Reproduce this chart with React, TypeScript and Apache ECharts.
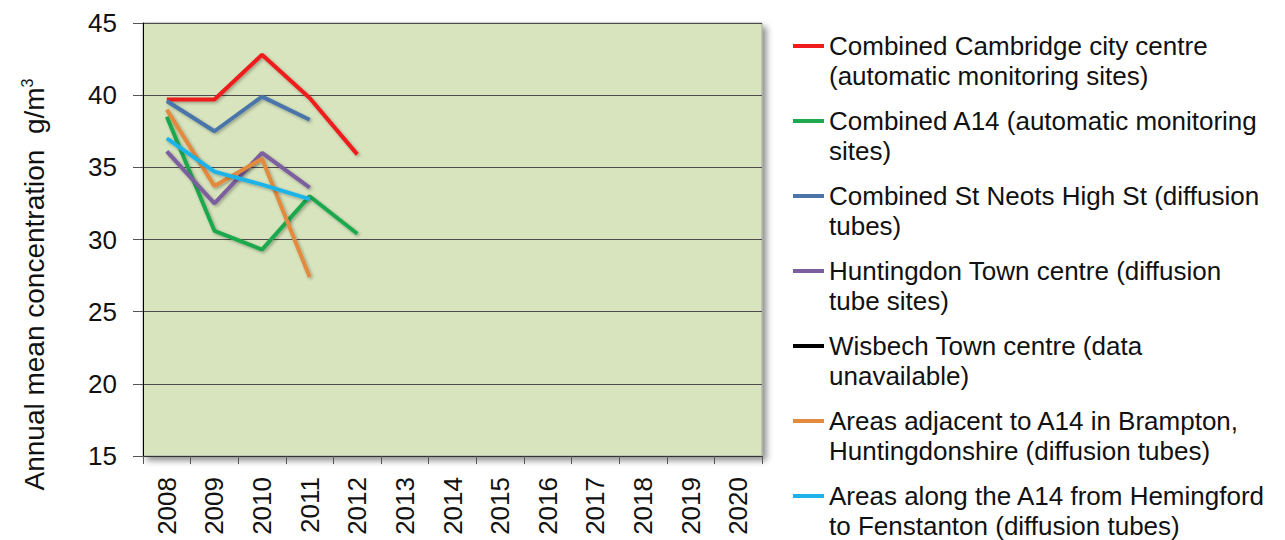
import React, { useEffect, useRef } from "react";
import * as echarts from "echarts";

const years = ["2008", "2009", "2010", "2011", "2012", "2013", "2014", "2015", "2016", "2017", "2018", "2019", "2020"];

const cambridgeCentre = [39.7, 39.7, 42.8, 39.8, 35.9];
const combinedA14 = [38.5, 30.6, 29.3, 33.0, 30.4];
const stNeots = [39.6, 37.5, 39.9, 38.3];
const huntingdon = [36.1, 32.5, 36.0, 33.6];
const wisbech: number[] = [];
const brampton = [39.0, 33.7, 35.6, 27.4];
const hemingford = [37.0, 34.7, 33.8, 32.8];

const seriesNames = [
  "Combined Cambridge city centre\n(automatic monitoring sites)",
  "Combined A14 (automatic monitoring\nsites)",
  "Combined St Neots High St (diffusion\ntubes)",
  "Huntingdon Town centre (diffusion\ntube sites)",
  "Wisbech Town centre (data\nunavailable)",
  "Areas adjacent to A14 in Brampton,\nHuntingdonshire (diffusion tubes)",
  "Areas along the A14 from Hemingford\nto Fenstanton (diffusion tubes)",
];
const seriesData = [cambridgeCentre, combinedA14, stNeots, huntingdon, wisbech, brampton, hemingford];
const seriesColors = ["#ee1c1c", "#1fa84d", "#4a74aa", "#7b5e9e", "#000000", "#e28a3e", "#1db3e9"];

const yTicks = { min: 15, max: 45, interval: 5 };

const FONT = "Liberation Sans, Arial, sans-serif";

export default function App() {
  const ref = useRef<HTMLDivElement>(null);
  useEffect(() => {
    document.body.style.margin = "0";
    const chart = echarts.init(ref.current!, null, { renderer: "svg" });
    chart.setOption({
      animation: false,
      backgroundColor: "#ffffff",
      textStyle: { fontFamily: FONT },
      grid: {
        left: 143,
        right: 523,
        top: 23,
        bottom: 84,
        show: true,
        backgroundColor: "#d7e4bd",
        borderColor: "#a6a6a6",
        borderWidth: 1,
        shadowColor: "rgba(0,0,0,0.45)",
        shadowBlur: 6,
        shadowOffsetX: 4,
        shadowOffsetY: 4,
      },
      legend: {
        orient: "vertical",
        left: 793,
        top: 1,
        height: 800,
        padding: 0,
        icon: "rect",
        itemWidth: 31,
        itemHeight: 4,
        itemGap: -15,
        selectedMode: false,
        formatter: (name: string) => " \n" + name,
        textStyle: {
          fontFamily: FONT,
          fontSize: 26,
          color: "#111111",
          lineHeight: 30,
        },
        data: seriesNames,
      },
      xAxis: {
        type: "category",
        data: years,
        boundaryGap: true,
        axisLine: { show: true, lineStyle: { color: "#333333", width: 1 } },
        axisTick: { show: true, length: 8, lineStyle: { color: "#555555" } },
        axisLabel: {
          rotate: 90,
          margin: 21,
          fontFamily: FONT,
          fontSize: 26,
          color: "#111111",
        },
        splitLine: { show: false },
      },
      yAxis: {
        type: "value",
        min: yTicks.min,
        max: yTicks.max,
        interval: yTicks.interval,
        name: "Annual mean concentration  g/m{sup|3}",
        nameLocation: "middle",
        nameGap: 94,
        nameRotate: 90,
        nameTextStyle: {
          fontFamily: FONT,
          fontSize: 28,
          color: "#111111",
          padding: [0, 90, 0, 0],
          rich: {
            sup: { fontSize: 16, fontFamily: FONT, color: "#111111", padding: [0, 0, 14, 0] },
          },
        },
        axisLine: { show: true, lineStyle: { color: "#000000", width: 1 } },
        axisTick: { show: true, length: 10, lineStyle: { color: "#555555" } },
        axisLabel: { margin: 26, fontFamily: FONT, fontSize: 26, color: "#111111" },
        splitLine: { show: true, lineStyle: { color: "#4d4d4d", width: 1 } },
      },
      series: seriesNames.map((name, i) => ({
        name,
        type: "line",
        data: seriesData[i],
        symbol: "none",
        color: seriesColors[i],
        lineStyle: {
          width: 4,
          color: seriesColors[i],
          shadowColor: "rgba(0,0,0,0.3)",
          shadowBlur: 3,
          shadowOffsetX: 1.5,
          shadowOffsetY: 1.5,
        },
      })),
    });
    return () => chart.dispose();
  }, []);
  return <div ref={ref} style={{ width: 1285, height: 540 }} />;
}
